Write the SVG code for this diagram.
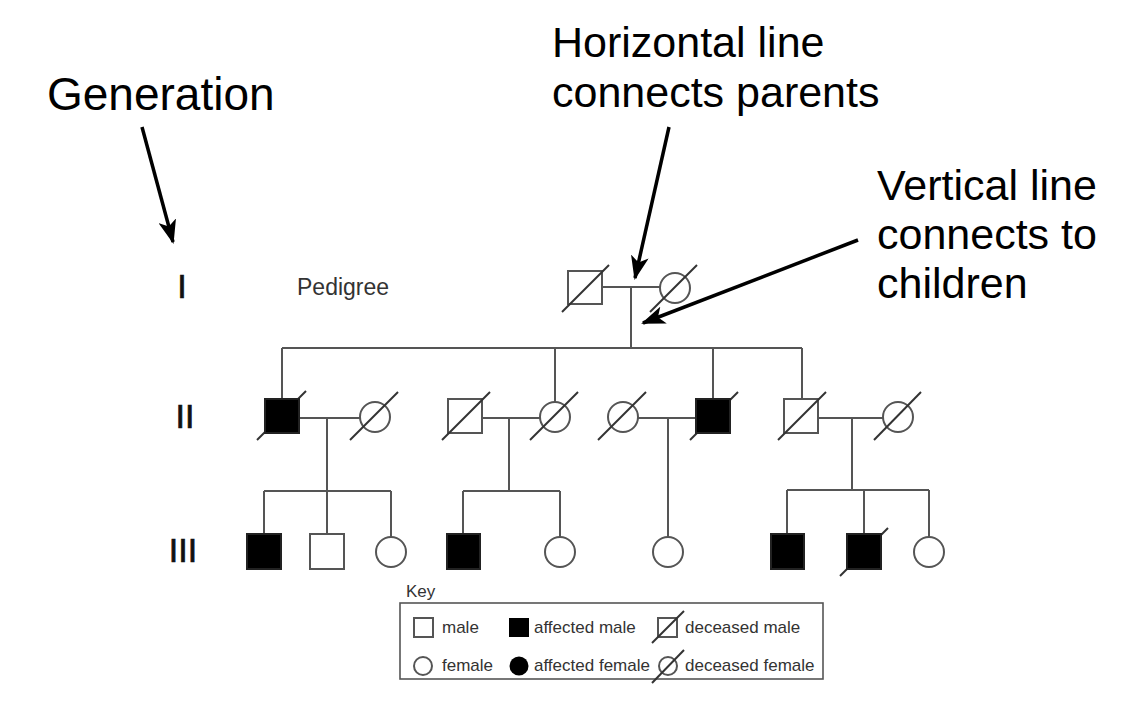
<svg xmlns="http://www.w3.org/2000/svg" width="1128" height="726" viewBox="0 0 1128 726">
<style>
.ann{font-family:"Liberation Sans",Arial,sans-serif;font-size:43px;fill:#000}
.gen{font-family:"Liberation Sans",Arial,sans-serif;font-size:34px;fill:#111;stroke:#111;stroke-width:0.7}
.lbl{font-family:"Liberation Sans",Arial,sans-serif;font-size:23px;fill:#333}
.key{font-family:"Liberation Sans",Arial,sans-serif;font-size:17px;fill:#333}
.ln{stroke:#555;stroke-width:2;fill:none}
.sym{stroke:#555;stroke-width:2;fill:#fff}
.aff{stroke:#222;stroke-width:2;fill:#000}
.sl{stroke:#333;stroke-width:2}
.arr{stroke:#000;stroke-width:3.5;fill:none;marker-end:url(#ah)}
</style>
<defs>
<marker id="ah" markerUnits="userSpaceOnUse" viewBox="0 0 24 18" refX="22" refY="9" markerWidth="24" markerHeight="18" orient="auto">
<path d="M0,0 L24,9 L0,18 L6,9 z" fill="#000"/>
</marker>
</defs>
<rect width="1128" height="726" fill="#fff"/>

<g id="annotations">
<text class="ann" x="47" y="110" style="font-size:46px">Generation</text>
<text class="ann" x="552" y="57">Horizontal line</text>
<text class="ann" x="552" y="107">connects parents</text>
<text class="ann" x="877" y="200">Vertical line</text>
<text class="ann" x="877" y="249">connects to</text>
<text class="ann" x="877" y="298">children</text>
</g>

<g id="labels">
<text class="gen" x="182" y="298" text-anchor="middle">I</text>
<text class="gen" x="185" y="428" text-anchor="middle">II</text>
<text class="gen" x="183" y="562" text-anchor="middle">III</text>
<text class="lbl" x="297" y="295">Pedigree</text>
</g>

<g id="connectors">
<!-- Gen I -->
<line class="ln" x1="602" y1="287" x2="660" y2="287"/>
<line class="ln" x1="631" y1="287" x2="631" y2="348"/>
<line class="ln" x1="282" y1="348" x2="802" y2="348"/>
<line class="ln" x1="282" y1="348" x2="282" y2="399"/>
<line class="ln" x1="555" y1="348" x2="555" y2="402"/>
<line class="ln" x1="713" y1="348" x2="713" y2="399"/>
<line class="ln" x1="802" y1="348" x2="802" y2="399"/>
<!-- Couple A -->
<line class="ln" x1="299" y1="418" x2="360" y2="418"/>
<line class="ln" x1="327" y1="418" x2="327" y2="491"/>
<line class="ln" x1="264" y1="491" x2="391" y2="491"/>
<line class="ln" x1="264" y1="491" x2="264" y2="534"/>
<line class="ln" x1="327" y1="491" x2="327" y2="534"/>
<line class="ln" x1="391" y1="491" x2="391" y2="537"/>
<!-- Couple B -->
<line class="ln" x1="482" y1="418" x2="540" y2="418"/>
<line class="ln" x1="509" y1="418" x2="509" y2="491"/>
<line class="ln" x1="463" y1="491" x2="560" y2="491"/>
<line class="ln" x1="463" y1="491" x2="463" y2="534"/>
<line class="ln" x1="560" y1="491" x2="560" y2="537"/>
<!-- Couple C -->
<line class="ln" x1="638" y1="418" x2="696" y2="418"/>
<line class="ln" x1="668" y1="418" x2="668" y2="537"/>
<!-- Couple D -->
<line class="ln" x1="818" y1="418" x2="883" y2="418"/>
<line class="ln" x1="852" y1="418" x2="852" y2="490"/>
<line class="ln" x1="787" y1="490" x2="929" y2="490"/>
<line class="ln" x1="787" y1="490" x2="787" y2="534"/>
<line class="ln" x1="864" y1="490" x2="864" y2="534"/>
<line class="ln" x1="929" y1="490" x2="929" y2="537"/>
<!-- annotation arrows -->
<line class="arr" x1="142" y1="127" x2="173" y2="242"/>
<line class="arr" x1="669" y1="127" x2="635" y2="278"/>
<line class="arr" x1="858" y1="240" x2="643" y2="323"/>
</g>

<g id="gen1-father"><rect class="sym" x="568" y="271" width="34" height="33"/><line class="sl" x1="562" y1="312" x2="609" y2="265"/></g>
<g id="gen1-mother"><circle class="sym" cx="675" cy="288" r="15"/><line class="sl" x1="650" y1="312" x2="697" y2="265"/></g>

<g id="gen2-m1"><line class="sl" x1="257" y1="440" x2="306" y2="391"/><rect class="aff" x="265" y="399" width="34" height="34"/></g>
<g id="gen2-f1"><circle class="sym" cx="375" cy="417" r="15"/><line class="sl" x1="350" y1="440" x2="398" y2="392"/></g>
<g id="gen2-m2"><rect class="sym" x="448" y="399" width="34" height="34"/><line class="sl" x1="442" y1="440" x2="490" y2="392"/></g>
<g id="gen2-f2"><circle class="sym" cx="555" cy="417" r="15"/><line class="sl" x1="530" y1="440" x2="578" y2="392"/></g>
<g id="gen2-f3"><circle class="sym" cx="623" cy="417" r="15"/><line class="sl" x1="598" y1="440" x2="646" y2="392"/></g>
<g id="gen2-m3"><line class="sl" x1="690" y1="440" x2="738" y2="392"/><rect class="aff" x="696" y="399" width="34" height="34"/></g>
<g id="gen2-m4"><rect class="sym" x="784" y="399" width="34" height="34"/><line class="sl" x1="778" y1="440" x2="826" y2="392"/></g>
<g id="gen2-f4"><circle class="sym" cx="898" cy="417" r="15"/><line class="sl" x1="874" y1="440" x2="921" y2="392"/></g>

<g id="gen3-1"><rect class="aff" x="247" y="534" width="34" height="35"/></g>
<g id="gen3-2"><rect class="sym" x="310" y="534" width="34" height="35"/></g>
<g id="gen3-3"><circle class="sym" cx="391" cy="552" r="15"/></g>
<g id="gen3-4"><rect class="aff" x="447" y="534" width="33" height="35"/></g>
<g id="gen3-5"><circle class="sym" cx="560" cy="552" r="15"/></g>
<g id="gen3-6"><circle class="sym" cx="668" cy="552" r="15"/></g>
<g id="gen3-7"><rect class="aff" x="771" y="534" width="33" height="35"/></g>
<g id="gen3-8"><line class="sl" x1="840" y1="576" x2="888" y2="528"/><rect class="aff" x="847" y="534" width="34" height="35"/></g>
<g id="gen3-9"><circle class="sym" cx="929" cy="552" r="15"/></g>

<g id="key">
<text class="key" x="406" y="597">Key</text>
<rect x="400" y="603" width="423" height="76" fill="none" stroke="#555" stroke-width="1.6"/>
<rect class="sym" x="414" y="618" width="19" height="19" stroke-width="1.5"/>
<text class="key" x="442" y="633">male</text>
<rect x="509" y="618" width="20" height="19" fill="#000"/>
<text class="key" x="534" y="633">affected male</text>
<rect class="sym" x="658" y="618" width="19" height="19" stroke-width="1.5"/>
<line class="sl" x1="652" y1="643" x2="684" y2="611" stroke-width="1.5"/>
<text class="key" x="685" y="633">deceased male</text>
<circle class="sym" cx="423" cy="666" r="9" stroke-width="1.5"/>
<text class="key" x="442" y="671">female</text>
<circle cx="519" cy="666" r="9.5" fill="#000"/>
<text class="key" x="534" y="671">affected female</text>
<circle class="sym" cx="668" cy="666" r="9" stroke-width="1.5"/>
<line class="sl" x1="652" y1="683" x2="684" y2="650" stroke-width="1.5"/>
<text class="key" x="685" y="671">deceased female</text>
</g>
</svg>
